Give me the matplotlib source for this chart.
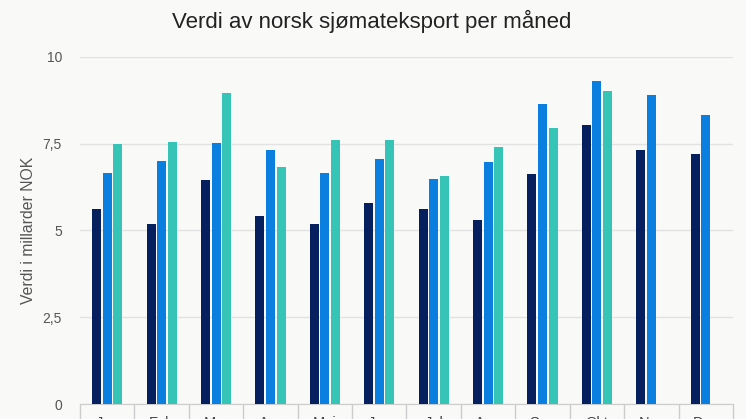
import numpy as np
import matplotlib.pyplot as plt

# Verdi av norsk sjømateksport per måned (milliarder NOK)
maaneder = ["Jan", "Feb", "Mar", "Apr", "Mai", "Jun", "Jul", "Aug", "Sep", "Okt", "Nov", "Des"]
aar_1 = [5.63, 5.20, 6.46, 5.42, 5.20, 5.78, 5.63, 5.31, 6.63, 8.04, 7.33, 7.21]
aar_2 = [6.67, 6.99, 7.53, 7.33, 6.67, 7.07, 6.49, 6.96, 8.64, 9.30, 8.90, 8.33]
aar_3 = [7.49, 7.56, 8.97, 6.82, 7.61, 7.61, 6.57, 7.42, 7.96, 9.01]
y_ticks = [0, 2.5, 5, 7.5, 10]
y_tick_labels = ["0", "2,5", "5", "7,5", "10"]

farger = ["#061f5e", "#0b7fe0", "#35c4b5"]
bakgrunn = "#f9f9f8"

plt.rcParams['font.family'] = ['Liberation Sans', 'DejaVu Sans']

fig = plt.figure(figsize=(7.46, 4.19), dpi=100, facecolor=bakgrunn)
ax = fig.add_axes([80/746, 15/419, 653/746, 347/419], facecolor=bakgrunn)

x = np.arange(len(maaneder))
bredde = 0.165
avstand = 0.195
ax.bar(x - avstand, aar_1, bredde, color=farger[0], zorder=3)
ax.bar(x, aar_2, bredde, color=farger[1], zorder=3)
ax.bar(np.arange(len(aar_3)) + avstand, aar_3, bredde, color=farger[2], zorder=3)

ax.set_xlim(-0.5, len(maaneder) - 0.5)
ax.set_ylim(0, 10)
ax.set_yticks(y_ticks)
ax.set_yticklabels(y_tick_labels)
ax.grid(axis="y", color="#e2e2e2", linewidth=1, zorder=0)

# etikettene for månedene er kuttet nederst i originalen
ax.set_xticks(x)
ax.set_xticklabels(maaneder)
ax.set_xticks(np.arange(len(maaneder) + 1) - 0.5, minor=True)
ax.tick_params(axis="x", which="major", length=0, pad=8.6, labelsize=10.5, labelcolor="#444444")
ax.tick_params(axis="x", which="minor", length=11, color="#cccccc", width=1)
ax.tick_params(axis="y", length=0, pad=13, labelsize=10, labelcolor="#555555")

for s in ["top", "right", "left"]:
    ax.spines[s].set_visible(False)
ax.spines["bottom"].set_color("#cccccc")

ax.set_ylabel("Verdi i millarder NOK", fontsize=11.3, color="#555555", labelpad=4.5)
fig.text(372/746, 1 - 21/419, "Verdi av norsk sjømateksport per måned",
         ha="center", va="center", fontsize=16, color="#222222")

fig.savefig("out.png", dpi=100, facecolor=bakgrunn)
